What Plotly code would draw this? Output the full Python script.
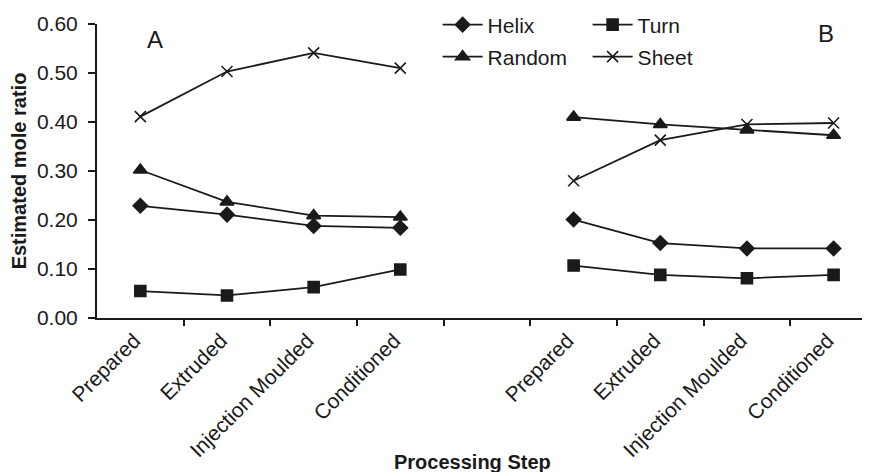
import plotly.graph_objects as go

# ---- data ----
tick_labels = ["Prepared", "Extruded", "Injection Moulded", "Conditioned", "",
               "Prepared", "Extruded", "Injection Moulded", "Conditioned"]
x_a = [0, 1, 2, 3]
x_b = [5, 6, 7, 8]

helix_a = [0.229, 0.211, 0.188, 0.184]
turn_a = [0.055, 0.046, 0.063, 0.099]
random_a = [0.302, 0.237, 0.209, 0.206]
sheet_a = [0.411, 0.503, 0.541, 0.510]

helix_b = [0.201, 0.153, 0.142, 0.142]
turn_b = [0.107, 0.088, 0.081, 0.088]
random_b = [0.410, 0.395, 0.384, 0.373]
sheet_b = [0.280, 0.363, 0.395, 0.398]

series = [
    ("Helix", helix_a, helix_b, "diamond", 11, "legend"),
    ("Turn", turn_a, turn_b, "square", 11, "legend"),
    ("Random", random_a, random_b, "triangle-up", 12, "legend2"),
    ("Sheet", sheet_a, sheet_b, "x-thin", 11, "legend2"),
]

INK = "#1a1a1a"
FONT = "Liberation Sans, Arial, sans-serif"
W, H = 862, 464  # page body adds an 8px offset

fig = go.Figure()
for name, ya, yb, sym, size, leg in series:
    marker = dict(symbol=sym, size=size, color=INK,
                  line=dict(color=INK, width=1.6))
    fig.add_trace(go.Scatter(x=x_a, y=ya, name=name, mode="lines+markers",
                             line=dict(color=INK, width=1.8), marker=marker,
                             legendgroup=name, legend=leg))
    fig.add_trace(go.Scatter(x=x_b, y=yb, name=name, mode="lines+markers",
                             line=dict(color=INK, width=1.8), marker=marker,
                             legendgroup=name, legend=leg, showlegend=False))

boundaries = [i + 0.5 for i in range(8)]

legend_common = dict(orientation="h", xref="container", yref="container",
                     xanchor="left", yanchor="middle", entrywidth=95,
                     bgcolor="rgba(0,0,0,0)", font=dict(size=21), itemwidth=40)

fig.update_layout(
    width=W, height=H,
    margin=dict(l=89, r=0, t=16, b=154, autoexpand=False),
    paper_bgcolor="white", plot_bgcolor="white",
    font=dict(family=FONT, size=21, color=INK),
    xaxis=dict(range=[-0.5, 8.42], tickmode="array",
               tickvals=list(range(len(tick_labels))), ticktext=tick_labels,
               ticks="", tickangle=-45, showgrid=False, zeroline=False,
               showline=True, linecolor=INK, linewidth=2, automargin=False,
               tickfont=dict(size=21), ticklabelshift=-6,
               minor=dict(tickmode="array", tickvals=boundaries, ticks="outside",
                          ticklen=6, tickwidth=1.5, tickcolor=INK, showgrid=False)),
    yaxis=dict(range=[0, 0.6], tick0=0, dtick=0.1, tickformat=".2f",
               ticks="outside", ticklen=7, tickwidth=1.5, tickcolor=INK,
               showgrid=False, zeroline=False, showline=True, linecolor=INK,
               linewidth=2, tickfont=dict(size=21), automargin=False,
               ticklabelstandoff=6,
               title=dict(text="<b>Estimated mole ratio</b>", font=dict(size=20),
                          standoff=8)),
    legend=dict(x=0.4984, y=1 - 17 / H, **legend_common),
    legend2=dict(x=0.4984, y=1 - 49 / H, **legend_common),
    annotations=[
        dict(text="A", x=0.075, y=0.9456, xref="paper", yref="paper",
             showarrow=False, font=dict(size=24), xanchor="center", yanchor="middle"),
        dict(text="B", x=0.943, y=0.966, xref="paper", yref="paper",
             showarrow=False, font=dict(size=24), xanchor="center", yanchor="middle"),
        dict(text="<b>Processing Step</b>", x=0.4864, y=-0.4898, xref="paper",
             yref="paper", showarrow=False, font=dict(size=20),
             xanchor="center", yanchor="middle"),
    ],
)

fig.write_html("out.html")
